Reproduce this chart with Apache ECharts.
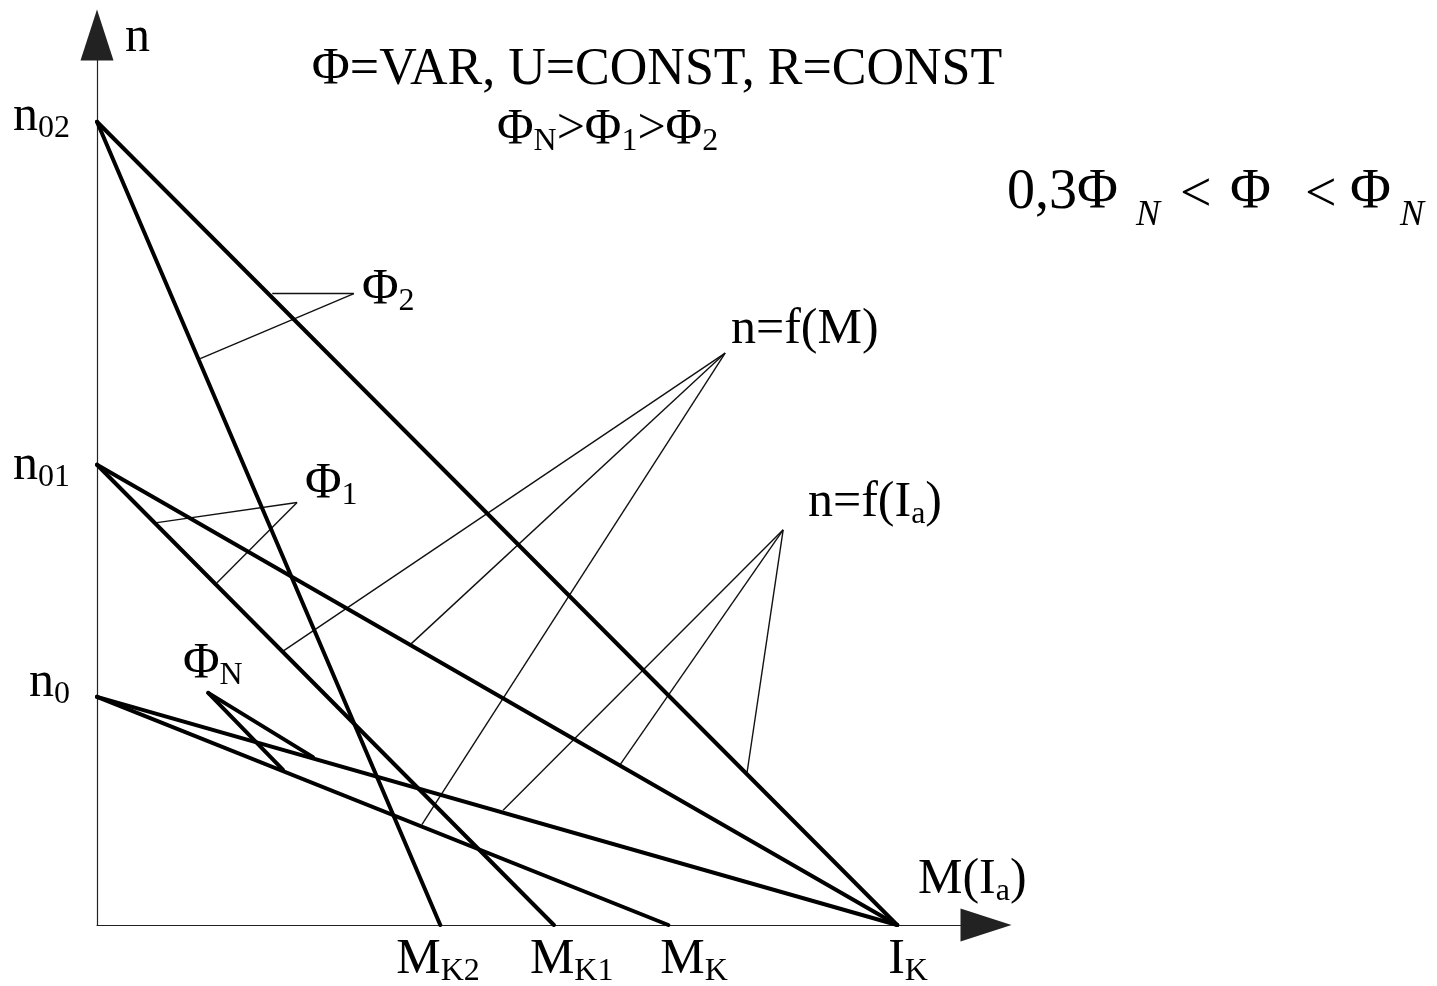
<!DOCTYPE html>
<html><head><meta charset="utf-8">
<script src="https://cdn.jsdelivr.net/npm/echarts@6/dist/echarts.min.js"></script>
<style>html,body{margin:0;padding:0;background:#fff}#c{width:1437px;height:986px}</style>
</head><body><div id="c"></div>
<script>
// ---- data (x: M / Ia units, y: n units) ----
const xTickMain = ['M', 'M', 'M', 'I'];
const xTickSub = ['K2', 'K1', 'K', 'K'];
const xTickValues = [42.9, 57.1, 71.4, 100];
const yTickMain = ['n', 'n', 'n'];
const yTickSub = ['0', '01', '02'];
const yTickValues = [28.4, 57.3, 100];

// characteristic lines: start at n (on the n axis), end at M (on the M axis)
const characteristicStartN = [100, 100, 57.3, 57.3, 28.4, 28.4];
const characteristicEndM = [42.9, 100, 57.1, 100, 71.4, 100];

// Φ_N marker strokes
const phiNMarkerStart = [13.9, 28.9];
const phiNMarkerEnds = [[27.0, 20.9], [23.25, 19.3]];

// leader lines (apex -> end points)
const phi2Apex = [32.1, 78.6];
const phi2Ends = [[21.9, 78.6], [12.9, 70.5]];
const phi1Apex = [25.0, 52.6];
const phi1Ends = [[7.5, 50.1], [15.0, 42.6]];
const nfMApex = [78.5, 71.2];
const nfMEnds = [[23.25, 34.1], [39.25, 35.0], [40.6, 12.5]];
const nfIApex = [85.75, 49.2];
const nfIEnds = [[50.75, 14.3], [65.4, 20.0], [81.25, 19.05]];

// ---- styles ----
const F = "'Liberation Serif','Times New Roman','DejaVu Serif',serif";
const xLabelOffsets = [[-44, 0], [-24, 0], [-8, 0], [-9, 0]];
const yLabelOffsets = [[0, -14], [0, 1], [0, -5]];

const richTick = {
  b: { fontSize: 50, fontFamily: F, color: '#000' },
  s: { fontSize: 32, fontFamily: F, color: '#000', padding: [24, 0, 0, 0] }
};

const thickLines = characteristicStartN.map((n, i) => ({ coords: [[0, n], [characteristicEndM[i], 0]] }));
phiNMarkerEnds.forEach(e => thickLines.push({ coords: [phiNMarkerStart, e] }));
const thinLines = [];
[[phi2Apex, phi2Ends], [phi1Apex, phi1Ends], [nfMApex, nfMEnds], [nfIApex, nfIEnds]].forEach(([a, ends]) => {
  ends.forEach(e => thinLines.push({ coords: [a, e] }));
});

const xTickData = xTickValues.map((v, i) => ({
  value: [v, 0],
  label: { formatter: '{b|' + xTickMain[i] + '}{s|' + xTickSub[i] + '}', offset: xLabelOffsets[i] }
}));
const yTickData = yTickValues.map((v, i) => ({
  value: [0, v],
  label: { formatter: '{b|' + yTickMain[i] + '}{s|' + yTickSub[i] + '}', offset: yLabelOffsets[i] }
}));

function txt(x, y, text, size, align, italic) {
  return {
    type: 'text', x: x, y: y, silent: true, z: 10,
    style: { text: text, font: (italic ? 'italic ' : '') + size + 'px ' + F, fill: '#000',
      textAlign: align || 'left', textVerticalAlign: 'middle' }
  };
}
function richTxt(x, y, text, rich, align) {
  return {
    type: 'text', x: x, y: y, silent: true, z: 10,
    style: { text: text, rich: rich, fill: '#000', textAlign: align || 'left', textVerticalAlign: 'middle' }
  };
}
const richAnn = {
  b: { fontSize: 50, fontFamily: F, color: '#000' },
  s: { fontSize: 32, fontFamily: F, color: '#000', padding: [24, 0, 0, 0] }
};

const chart = echarts.init(document.getElementById('c'), null, { renderer: 'canvas' });
chart.setOption({
  backgroundColor: '#fff',
  animation: false,
  grid: { left: 97, top: 35, width: 889, height: 890 },
  xAxis: {
    type: 'value', min: 0, max: 111.1,
    axisLine: { onZero: false, lineStyle: { color: '#222', width: 1.2 }, symbol: ['none', 'triangle'], symbolSize: [33, 51] },
    axisTick: { show: false }, axisLabel: { show: false }, splitLine: { show: false }
  },
  yAxis: {
    type: 'value', min: 0, max: 110.8,
    axisLine: { show: true, onZero: false, lineStyle: { color: '#222', width: 1.2 }, symbol: ['none', 'triangle'], symbolSize: [33, 51] },
    axisTick: { show: false }, axisLabel: { show: false }, splitLine: { show: false }
  },
  series: [
    { type: 'lines', coordinateSystem: 'cartesian2d', silent: true, z: 5,
      lineStyle: { color: '#000', width: 4, opacity: 1, cap: 'round' }, data: thickLines },
    { type: 'lines', coordinateSystem: 'cartesian2d', silent: true, z: 4,
      lineStyle: { color: '#111', width: 1.4, opacity: 1 }, data: thinLines },
    { type: 'scatter', silent: true, symbol: 'circle', symbolSize: 0.01, z: 6, itemStyle: { color: '#000', opacity: 1 },
      label: { show: true, color: '#000', position: 'bottom', distance: 7, align: 'left', verticalAlign: 'top', rich: richTick },
      data: xTickData },
    { type: 'scatter', silent: true, symbol: 'circle', symbolSize: 0.01, z: 6, itemStyle: { color: '#000', opacity: 1 },
      label: { show: true, color: '#000', position: 'left', distance: 27, align: 'right', verticalAlign: 'middle', rich: richTick },
      data: yTickData }
  ],
  graphic: [
    txt(125, 38, 'n', 50),
    richTxt(918, 880, '{b|M(I}{s|a}{b|)}', richAnn),
    txt(657, 70, 'Φ=VAR, U=CONST, R=CONST', 52, 'center'),
    richTxt(497, 130, '{b|Φ}{s|N}{b|>Φ}{s|1}{b|>Φ}{s|2}', richAnn),
    txt(1007, 193, '0,3Φ', 56),
    txt(1136, 216, 'N', 36, 'left', true),
    txt(1180, 196, '<', 56),
    txt(1230, 193, 'Φ', 56),
    txt(1305, 196, '<', 56),
    txt(1350, 193, 'Φ', 56),
    txt(1400, 216, 'N', 36, 'left', true),
    richTxt(362, 290, '{b|Φ}{s|2}', richAnn),
    richTxt(305, 484, '{b|Φ}{s|1}', richAnn),
    richTxt(183, 664, '{b|Φ}{s|N}', richAnn),
    richTxt(731, 330, '{b|n=f(M)}', richAnn),
    richTxt(808, 503, '{b|n=f(I}{s|a}{b|)}', richAnn)
  ]
});
</script>
</body></html>
